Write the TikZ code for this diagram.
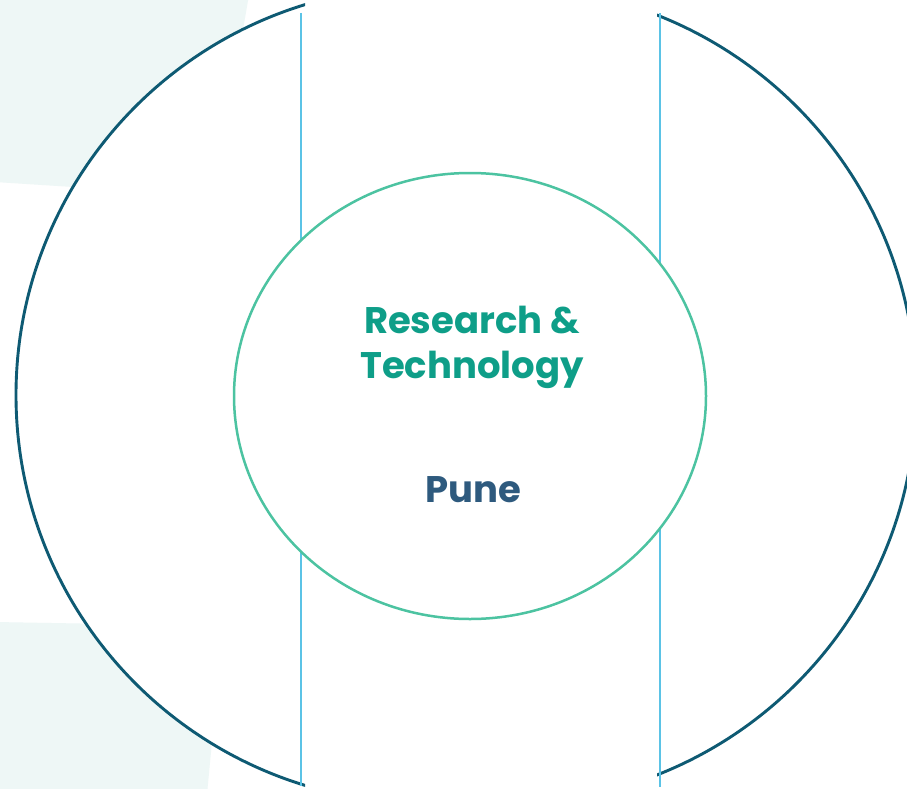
\documentclass[tikz,border=0pt]{standalone}
\usepackage{fontspec}
\setmainfont{Poppins}
\usetikzlibrary{shapes.geometric}
\definecolor{mint}{HTML}{EEF7F6}
\definecolor{arcc}{HTML}{0E5A73}
\definecolor{vline}{HTML}{5BC3E6}
\definecolor{ring}{HTML}{4CC3A1}
\definecolor{titlec}{HTML}{0E9E88}
\definecolor{cityc}{HTML}{2E5A7E}
\tikzset{
  bigarc/.style={draw=arcc, line width=2.9pt, fill=white},
  divider/.style={draw=vline, line width=2pt},
  hubring/.style={ellipse, draw=ring, line width=2.5pt, fill=white, minimum width=472pt, minimum height=446pt, inner sep=0pt},
  titletext/.style={font=\fontsize{37}{45}\selectfont\bfseries, text=titlec, align=center},
  citytext/.style={font=\fontsize{37}{45}\selectfont\bfseries, text=cityc, align=center}
}
\begin{document}
\begin{tikzpicture}[x=1pt,y=-1pt]
\useasboundingbox (0,0) rectangle (907,789);
\fill[white] (0,0) rectangle (907,789);
% mint background shapes
\fill[mint] (-5,-5) -- (249,-5) -- (214,196) -- (-5,182) -- cycle;
\fill[mint] (-5,622) -- (223,626) -- (207,794) -- (-5,794) -- cycle;
% big arcs
\begin{scope}
  \clip (-10,-10) rectangle (305,800);
  \path[bigarc] (424,395) circle[radius=408pt];
\end{scope}
\begin{scope}
  \clip (657,-10) rectangle (920,800);
  \path[bigarc] (508,395) circle[radius=408pt];
\end{scope}
% vertical dividers
\coordinate (lt) at (301,13);
\coordinate (lb) at (301,786);
\coordinate (rt) at (660,13);
\coordinate (rb) at (660,787);
\draw[divider] (lt) -- (lb);
\draw[divider] (rt) -- (rb);
% central ring
\node[hubring] (hub) at (470,396) {};
\node[titletext] (title) at (472,347) {Research \&\\Technology};
\node[citytext] (city) at (473,490) {Pune};
\end{tikzpicture}
\end{document}
